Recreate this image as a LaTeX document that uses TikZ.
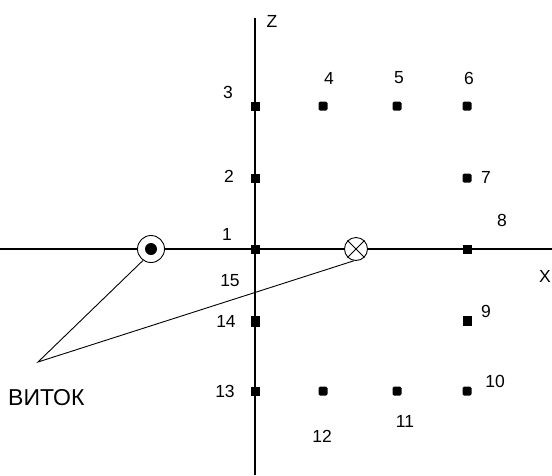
\documentclass[tikz,border=0pt]{standalone}
\usepackage{fontspec}
\setmainfont{Liberation Sans}
\begin{document}
\begin{tikzpicture}[x=1pt,y=-1pt,
  pt/.style={draw=none,fill=black,minimum size=9pt,inner sep=0pt,rectangle},
  rpt/.style={pt,rounded corners=1.5pt},
  lbl/.style={font=\fontsize{17.5}{17.5}\selectfont,inner sep=0pt},
  axis/.style={line width=1.4pt}]
\useasboundingbox (0,0) rectangle (552,475);
% axes
\coordinate (xl) at (0,249);
\coordinate (xr) at (552,249);
\coordinate (zt) at (255,18);
\coordinate (zb) at (255,475);
\draw[axis] (xl) -- (xr);
\draw[axis] (zt) -- (zb);
\node[lbl] (zlab) at (272,21) {Z};
\node[lbl] (xlab) at (545,276) {X};
% points
\node[pt] (p1) at (255,249) {};
\node[pt] (p2) at (255,178) {};
\node[pt] (p3) at (255,106) {};
\node[rpt] (p4) at (323,106) {};
\node[rpt] (p5) at (397,106) {};
\node[rpt] (p6) at (467,106) {};
\node[rpt] (p7) at (467,178) {};
\node[pt] (p8) at (467,249) {};
\node[pt,minimum height=10pt] (p9) at (467,321) {};
\node[rpt] (p10) at (467,391) {};
\node[rpt] (p11) at (397,391) {};
\node[rpt] (p12) at (323,391) {};
\node[pt] (p13) at (255,391) {};
\node[pt,minimum height=11pt] (p14) at (255,321) {};
% labels
\node[lbl] (l1) at (227,234) {1};
\node[lbl] (l2) at (229,176) {2};
\node[lbl] (l3) at (228,92) {3};
\node[lbl] (l4) at (329,78) {4};
\node[lbl] (l5) at (399,78) {5};
\node[lbl] (l6) at (469,78) {6};
\node[lbl] (l7) at (486,177) {7};
\node[lbl] (l8) at (502,220) {8};
\node[lbl] (l9) at (486,311) {9};
\node[lbl] (l10) at (495,381) {10};
\node[lbl] (l11) at (405,421) {11};
\node[lbl] (l12) at (322,436) {12};
\node[lbl] (l13) at (225,391) {13};
\node[lbl] (l14) at (226,321) {14};
\node[lbl] (l15) at (230,281) {15};
% conductors
\node[circle,draw,line width=0.9pt,minimum size=27pt,inner sep=0pt,fill=white] (cd) at (151,249) {};
\fill (cd.center) circle (6pt);
\node[circle,draw,line width=0.9pt,minimum size=23pt,inner sep=0pt,fill=white] (cx) at (356,249) {};
\draw[line width=0.9pt] (cx.45) -- (cx.225) (cx.135) -- (cx.315);
\coordinate (v) at (38,362);
\draw[line width=0.9pt] (cd.-125) -- (v) -- (cx.-100);
\node[anchor=west,font=\fontsize{23}{23}\selectfont,inner sep=0pt] (vit) at (8,398) {ВИТОК};
\end{tikzpicture}
\end{document}
